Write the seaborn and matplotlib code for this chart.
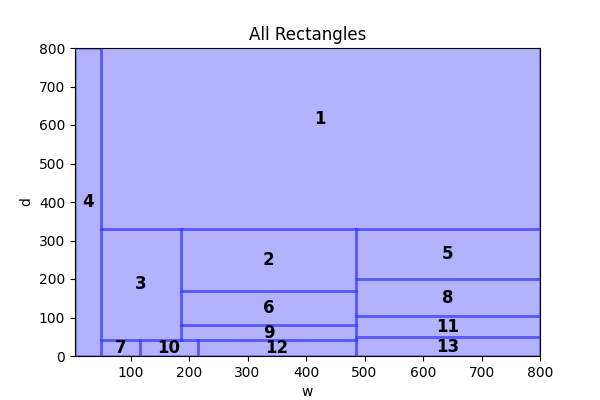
import matplotlib
matplotlib.use("Agg")
import matplotlib.pyplot as plt
import seaborn as sns

# rectangles: left x, bottom y, width, depth
rect_ids = ["1", "2", "3", "4", "5", "6", "7", "8", "9", "10", "11", "12", "13"]
rect_x = [49, 187, 49, 5, 485, 187, 49, 485, 187, 116, 485, 216, 485]
rect_y = [330, 170, 42, 0, 199, 80, 0, 104, 42, 0, 49, 0, 0]
rect_w = [751, 298, 138, 44, 315, 298, 67, 315, 298, 100, 315, 269, 315]
rect_d = [570, 160, 288, 800, 131, 90, 42, 95, 38, 42, 55, 42, 49]

sns.set_style("ticks", {"axes.edgecolor": "black", "text.color": "black",
                        "axes.labelcolor": "black", "xtick.color": "black",
                        "ytick.color": "black"})
plt.rcParams['font.family'] = ['DejaVu Sans']

fig, ax = plt.subplots(figsize=(6, 4), dpi=100)

ax.bar(rect_x, rect_d, width=rect_w, bottom=rect_y, align="edge",
       color="blue", edgecolor="blue", linewidth=2, alpha=0.3)

for name, x, y, w, d in zip(rect_ids, rect_x, rect_y, rect_w, rect_d):
    ax.text(x + w / 2, y + d / 2, name, ha="center", va="center",
            fontsize=12, fontweight="bold")

ax.set_xlim(5, 800)
ax.set_ylim(0, 800)
ax.set_xlabel("w")
ax.set_ylabel("d")
ax.set_title("All Rectangles")

fig.savefig("out.png", dpi=100)
